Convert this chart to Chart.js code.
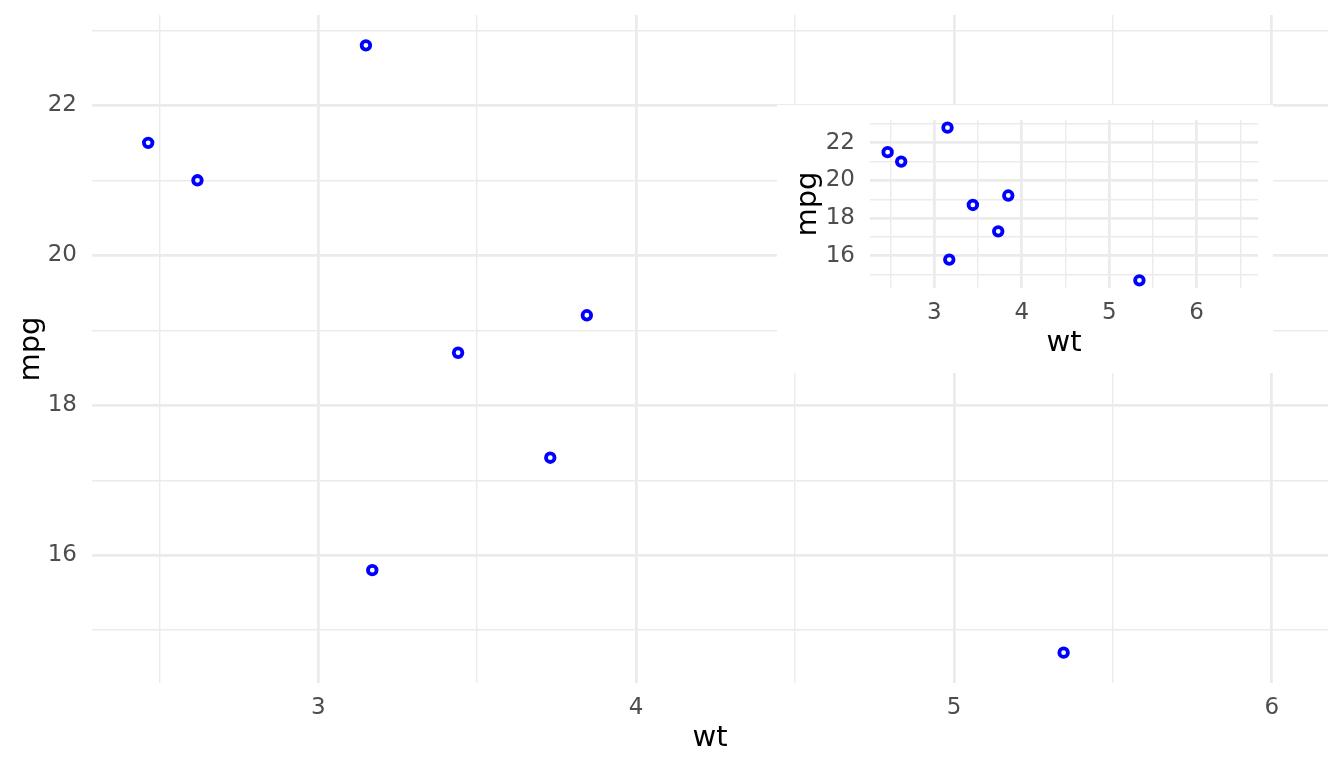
<!DOCTYPE html>
<html>
<head>
<meta charset="utf-8">
<script src="https://cdn.jsdelivr.net/npm/chart.js@4"></script>
<style>
  html, body { margin: 0; padding: 0; background: #fff; }
  #wrap { position: relative; width: 1344px; height: 768px; }
  #mainChart { position: absolute; left: 0; top: 0; }
  #insetBox { position: absolute; left: 777px; top: 105px; width: 496px; height: 268px; background: #fff; }
</style>
</head>
<body>
<div id="wrap">
  <canvas id="mainChart" width="1344" height="768"></canvas>
  <div id="insetBox"><canvas id="insetChart" width="496" height="268"></canvas></div>
</div>
<script>
// mtcars subset: weight vs fuel economy
const wt  = [2.620, 2.465, 3.150, 3.170, 3.440, 3.730, 3.845, 5.345];
const mpg = [21.0, 21.5, 22.8, 15.8, 18.7, 17.3, 19.2, 14.7];

// axis limits (ggplot default 5% expansion)
const mainXRange  = [2.28825, 6.17675];
const insetXRange = [2.26325, 6.70175];
const yRange      = [14.295, 23.205];

// ticks: labelled (major) and all gridlines
const mainXGrid  = [2.5, 3, 3.5, 4, 4.5, 5, 5.5, 6];
const insetXGrid = [2.5, 3, 3.5, 4, 4.5, 5, 5.5, 6, 6.5];
const xLabels    = [3, 4, 5, 6];
const yGrid      = [15, 16, 17, 18, 19, 20, 21, 22, 23];
const yLabels    = [16, 18, 20, 22];

const FONT = "'DejaVu Sans', sans-serif";
const GRID = '#EBEBEB';
const TICK = '#4D4D4D';

function axis(range, grid, labels, title, isX, yAxisWidth) {
    return {
        type: 'linear',
        position: isX ? 'bottom' : 'left',
        min: range[0],
        max: range[1],
        afterBuildTicks: scale => { scale.ticks = grid.map(v => ({ value: v })); },
        afterFit: scale => {
            // fixed axis boxes, no extra room for overhanging labels
            if (isX) scale.height = 85;
            else scale.width = yAxisWidth;
            scale.paddingTop = 0;
            scale.paddingBottom = 0;
            scale.paddingLeft = 0;
            scale.paddingRight = 0;
        },
        border: { display: false },
        grid: {
            color: GRID,
            drawTicks: false,
            lineWidth: ctx => labels.includes(ctx.tick && ctx.tick.value) ? 2.8 : 1.4
        },
        ticks: {
            autoSkip: false,
            maxRotation: 0,
            padding: isX ? 11 : 15,
            color: TICK,
            font: { family: FONT, size: 23 },
            callback: v => labels.includes(v) ? String(v) : ''
        },
        title: {
            display: true,
            text: title,
            color: '#000',
            font: { family: FONT, size: 29 },
            padding: isX ? { top: 0, bottom: 12 } : { top: 14, bottom: 0 }
        }
    };
}

function makeChart(id, xRange, xGrid, yAxisWidth, rightPad) {
    return new Chart(document.getElementById(id), {
        type: 'scatter',
        data: {
            datasets: [{
                data: wt.map((w, i) => ({ x: w, y: mpg[i] })),
                pointStyle: 'circle',
                pointRadius: 4.3,
                pointHoverRadius: 4.3,
                borderWidth: 3.8,
                borderColor: '#0000FF',
                backgroundColor: 'rgba(0,0,0,0)'
            }]
        },
        options: {
            responsive: false,
            animation: false,
            devicePixelRatio: 1,
            layout: { padding: { left: 0, right: rightPad, top: 15, bottom: 0 } },
            plugins: { legend: { display: false }, tooltip: { enabled: false } },
            scales: {
                x: axis(xRange, xGrid, xLabels, 'wt', true),
                y: axis(yRange, yGrid, yLabels, 'mpg', false, yAxisWidth)
            }
        }
    });
}

makeChart('mainChart', mainXRange, mainXGrid, 92, 16);
makeChart('insetChart', insetXRange, insetXGrid, 93, 15);
</script>
</body>
</html>
